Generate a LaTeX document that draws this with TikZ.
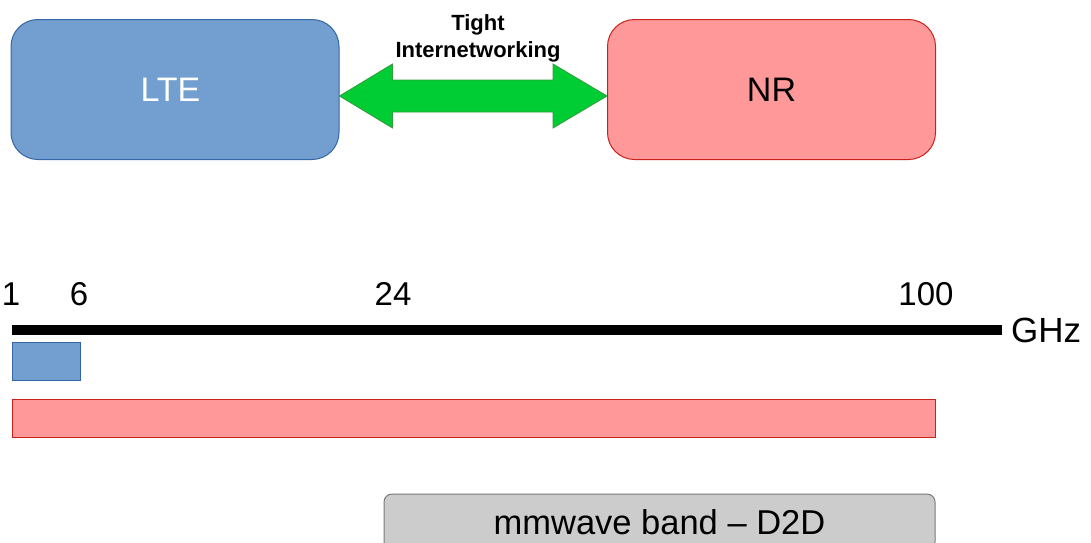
\documentclass[tikz,border=0pt]{standalone}
\usepackage{fontspec}
\setmainfont{Liberation Sans}
\usetikzlibrary{calc}

\definecolor{ltefill}{HTML}{729FCF}
\definecolor{ltedraw}{HTML}{3465A4}
\definecolor{nrfill}{HTML}{FF9999}
\definecolor{nrdraw}{HTML}{C9211E}
\definecolor{linkfill}{HTML}{00CC33}
\definecolor{linkdraw}{HTML}{2E9E3A}
\definecolor{bandfill}{HTML}{CCCCCC}
\definecolor{banddraw}{HTML}{7A7A7A}

\tikzset{
  ratbox/.style={rounded corners=27pt, minimum width=328pt, minimum height=140pt,
    line width=1pt, inner sep=0pt, font=\fontsize{34}{40}\selectfont},
  ticklabel/.style={anchor=base, inner sep=0pt, font=\fontsize{33}{38}\selectfont},
  spanbar/.style={line width=1pt},
}

\begin{document}
\begin{tikzpicture}[x=1pt,y=-1pt]
  \path[use as bounding box, clip] (0,0) rectangle (1091,542);

  % radio access technologies
  \node[ratbox, draw=ltedraw, fill=ltefill, text=white] (lte) at (175,89.5) {LTE\kern9pt};
  \node[ratbox, draw=nrdraw, fill=nrfill, text=black] (nr) at (771.5,89.5) {NR};

  % double-headed link between them
  \draw[fill=linkfill, draw=linkdraw, line width=0.8pt, line join=miter]
    (lte.east |- 0,96)
    -- ($(lte.east |- 0,96)+(53,-32)$) -- ($(lte.east |- 0,96)+(53,-16)$)
    -- ($(nr.west |- 0,96)+(-54,-16)$) -- ($(nr.west |- 0,96)+(-54,-32)$)
    -- (nr.west |- 0,96)
    -- ($(nr.west |- 0,96)+(-54,32)$) -- ($(nr.west |- 0,96)+(-54,16)$)
    -- ($(lte.east |- 0,96)+(53,16)$) -- ($(lte.east |- 0,96)+(53,32)$)
    -- cycle;
  \node[align=center, inner sep=0pt, font=\bfseries\fontsize{22}{27}\selectfont,
        anchor=base] (link) at (478,57) {Tight\\Internetworking};

  % frequency axis
  \coordinate (axL) at (12,330);
  \coordinate (axR) at (1002,330);
  \draw[line width=10pt, line cap=butt] (axL) -- (axR);
  \node[anchor=west, inner sep=0pt, font=\fontsize{35}{40}\selectfont]
    (ghz) at ($(axR)+(9,0)$) {GHz};

  \node[ticklabel] (t1) at (11,305) {1};
  \node[ticklabel] (t6) at (79,305) {6};
  \node[ticklabel] (t24) at (393,305) {24};
  \node[ticklabel] (t100) at (926,305) {100};

  % spectrum covered by each technology
  \draw[spanbar, draw=ltedraw, fill=ltefill] (12,342) rectangle (80,380);
  \draw[spanbar, draw=nrdraw, fill=nrfill] (12,399) rectangle (935,437);

  % millimetre-wave band
  \node[draw=banddraw, fill=bandfill, line width=1pt, rounded corners=8pt,
        minimum width=551pt, minimum height=56pt, inner sep=0pt,
        font=\fontsize{34.5}{40}\selectfont] (mmw) at (659.5,522) {mmwave band -- D2D};
\end{tikzpicture}
\end{document}
